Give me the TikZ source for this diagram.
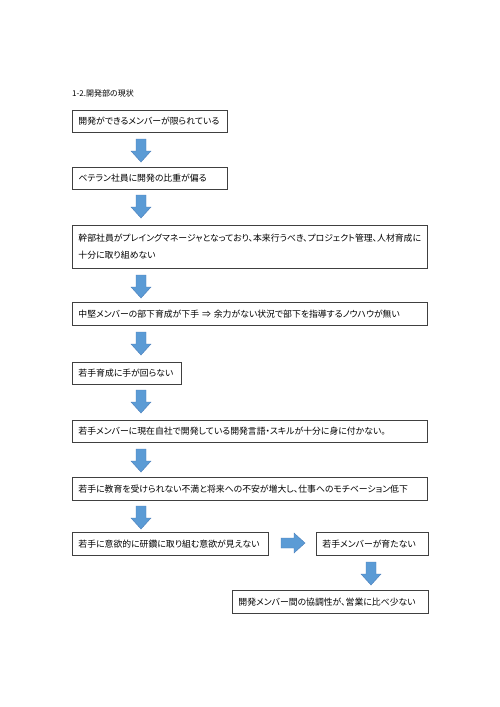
\documentclass[tikz,border=0pt]{standalone}
\usepackage{fontspec}
\setmainfont{Noto Sans CJK JP}[RawFeature={+palt}]
\definecolor{arrfill}{HTML}{5B9BD5}
\definecolor{arrline}{HTML}{4A7EBB}
\definecolor{boxline}{HTML}{404040}
\begin{document}
\begin{tikzpicture}[x=1pt,y=-1pt,
  box/.style={draw=boxline,line width=0.9pt,anchor=north west,inner xsep=6pt,inner ysep=0pt,
    align=left,font=\fontsize{8.85}{17}\selectfont},
  blockarrow/.style={fill=arrfill,draw=arrline,line width=0.4pt}]
\useasboundingbox (0,0) rectangle (500,707);
\fill[white] (0,0) rectangle (500,707);
\newcommand{\downarr}[1]{\path[blockarrow] ([shift={(-5,0)}]#1) -- ++(10,0) -- ++(0,12) -- ++(5,0) -- ++(-10,11) -- ++(-10,-11) -- ++(5,0) -- cycle;}
\newcommand{\rightarr}[1]{\path[blockarrow] ([shift={(0,-5)}]#1) -- ++(13,0) -- ++(0,-5) -- ++(11,10) -- ++(-11,10) -- ++(0,-5) -- ++(-13,0) -- cycle;}
\node[anchor=west,inner sep=0pt,font=\fontsize{8}{10}\selectfont] (title) at (72,93) {1-2.開発部の現状};
\node[box,minimum width=155pt,minimum height=22pt,text width=143pt] (b1) at (72,110) {開発ができるメンバーが限られている};
\node[box,minimum width=155pt,minimum height=22pt,text width=143pt] (b2) at (72,167) {ベテラン社員に開発の比重が偏る};
\node[box,minimum width=355pt,minimum height=43pt,text width=343pt] (b3) at (72,225) {幹部社員がプレイングマネージャとなっており、本来行うべき、プロジェクト管理、人材育成に\\十分に取り組めない};
\node[box,minimum width=355pt,minimum height=23pt,text width=343pt] (b4) at (72,302) {中堅メンバーの部下育成が下手 ⇒ 余力がない状況で部下を指導するノウハウが無い};
\node[box,minimum width=109pt,minimum height=22pt,text width=97pt] (b5) at (72,362) {若手育成に手が回らない};
\node[box,minimum width=355pt,minimum height=22pt,text width=343pt] (b6) at (72,420) {若手メンバーに現在自社で開発している開発言語・スキルが十分に身に付かない。};
\node[box,minimum width=355pt,minimum height=23pt,text width=343pt] (b7) at (72,477) {若手に教育を受けられない不満と将来への不安が増大し、仕事へのモチベーション低下};
\node[box,minimum width=196pt,minimum height=23pt,text width=184pt] (b8) at (72,532) {若手に意欲的に研鑽に取り組む意欲が見えない};
\node[box,minimum width=112pt,minimum height=23pt,text width=100pt] (b9) at (316,532) {若手メンバーが育たない};
\node[box,minimum width=196pt,minimum height=23pt,text width=184pt] (b10) at (232,590) {開発メンバー間の協調性が、営業に比べ少ない};
\coordinate (a1) at (141,139);
\coordinate (a2) at (141,195);
\coordinate (a3) at (141,275);
\coordinate (a4) at (141,332);
\coordinate (a5) at (141,390);
\coordinate (a6) at (141,449);
\coordinate (a7) at (141,506);
\coordinate (a8) at (281,543);
\coordinate (a9) at (371,562);
\downarr{a1}
\downarr{a2}
\downarr{a3}
\downarr{a4}
\downarr{a5}
\downarr{a6}
\downarr{a7}
\rightarr{a8}
\downarr{a9}
\end{tikzpicture}
\end{document}
